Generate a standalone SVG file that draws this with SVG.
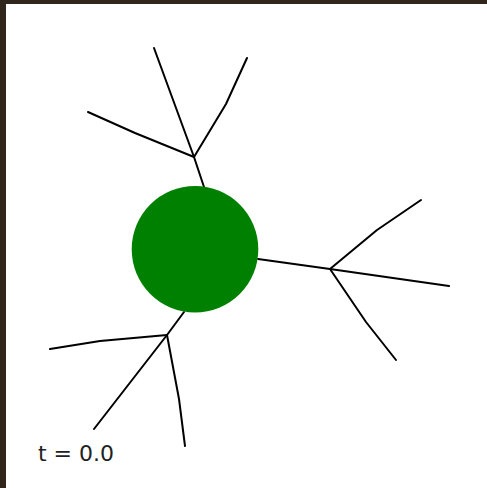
<svg xmlns="http://www.w3.org/2000/svg" width="487" height="488" viewBox="0 0 487 488">
<style>
.b{fill:none;stroke:#000;stroke-width:2;stroke-linecap:round;stroke-linejoin:round}
.lbl{font-family:"DejaVu Sans",sans-serif;font-size:22px;fill:#222}
</style>
<rect x="0" y="0" width="487" height="488" fill="#ffffff"/>
<rect x="0" y="0" width="487" height="4" fill="#30261c"/>
<rect x="0" y="0" width="6" height="488" fill="#30261c"/>
<g id="connectors">
<polyline class="b" points="204,187 194,157"/>
<polyline class="b" points="194,157 154,48"/>
<polyline class="b" points="194,157 226,104 247,58"/>
<polyline class="b" points="194,157 135,133 88,112"/>
<polyline class="b" points="258,259 330,269"/>
<polyline class="b" points="330,269 377,230 421,200"/>
<polyline class="b" points="330,269 449,286"/>
<polyline class="b" points="330,269 366,322 396,360"/>
<polyline class="b" points="184,312 167,335"/>
<polyline class="b" points="167,335 100,341 50,349"/>
<polyline class="b" points="167,335 94,429"/>
<polyline class="b" points="167,335 179,399 185,446"/>
</g>
<g id="cell">
<circle cx="195" cy="249.3" r="63.3" fill="#008000"/>
</g>
<g id="label">
<text class="lbl" x="38" y="461">t = 0.0</text>
</g>
</svg>
